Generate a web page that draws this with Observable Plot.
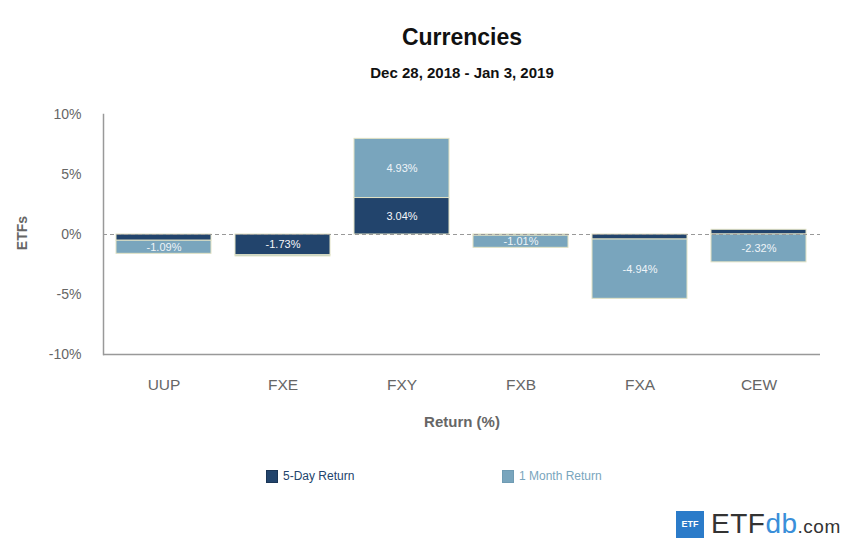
<!DOCTYPE html>
<html>
<head>
<meta charset="utf-8">
<script src="https://cdn.jsdelivr.net/npm/d3@7"></script>
<script src="https://cdn.jsdelivr.net/npm/@observablehq/plot@0.6"></script>
<style>
  body { margin: 0; background: #fff; font-family: "Liberation Sans", Arial, sans-serif; }
  #wrap { position: relative; width: 850px; height: 544px; overflow: hidden; }
  .abs { position: absolute; white-space: nowrap; }
  #chart { position: absolute; left: 0; top: 0; }
</style>
</head>
<body>
<div id="wrap">
  <div id="chart"></div>
  <div class="abs" style="left:0;width:924px;top:24px;text-align:center;font-size:23px;font-weight:bold;color:#111;">Currencies</div>
  <div class="abs" style="left:0;width:924px;top:64px;text-align:center;font-size:15px;font-weight:bold;color:#111;">Dec 28, 2018 - Jan 3, 2019</div>
  <div class="abs" style="left:0;width:924px;top:413px;text-align:center;font-size:15px;font-weight:bold;color:#666;">Return (%)</div>
  <div class="abs" style="left:2px;top:225px;width:40px;text-align:center;font-size:14px;font-weight:bold;color:#666;transform:rotate(-90deg);">ETFs</div>
  <div id="legend"></div>
  <div class="abs" style="left:676px;top:511px;width:28px;height:27px;background:#2b7bc9;color:#fff;font-size:9px;font-weight:bold;text-align:center;line-height:27px;">ETF</div>
  <div class="abs" style="left:711px;top:508px;font-size:28px;color:#333;letter-spacing:0.5px;">ETF<span style="color:#3a8fd9;">db</span><span style="font-size:19px;">.com</span></div>
</div>
<script>
const etfs = ["UUP", "FXE", "FXY", "FXB", "FXA", "CEW"];
const seriesNames = ["5-Day Return", "1 Month Return"];
const fiveDay = [-0.52, -1.73, 3.04, -0.10, -0.42, 0.39];
const oneMonth = [-1.09, -0.10, 4.93, -1.01, -4.94, -2.32];
const yTicks = [-10, -5, 0, 5, 10];
const colors = ["#22446c", "#79a5bd"];
const labelColors = ["#f4f6f9", "#eef4f8"];

const data = [];
etfs.forEach((e, i) => {
  data.push({etf: e, series: seriesNames[0], value: fiveDay[i]});
  data.push({etf: e, series: seriesNames[1], value: oneMonth[i]});
});

const plot = Plot.plot({
  width: 850,
  height: 440,
  marginTop: 114,
  marginBottom: 86,
  marginLeft: 103,
  marginRight: 30,
  style: {fontFamily: "'Liberation Sans', Arial, sans-serif", fontSize: "14px", color: "#666", background: "transparent"},
  x: {domain: etfs, paddingInner: 0.2, paddingOuter: 0.1, label: null},
  y: {domain: [-10, 10], label: null},
  color: {domain: seriesNames, range: colors},
  marks: [
    Plot.axisY(yTicks, {tickFormat: d => d + "%", tickSize: 0, tickPadding: 22, fontSize: 14, label: null}),
    Plot.axisX({tickSize: 0, tickPadding: 24, fontSize: 15.5, label: null}),
    Plot.barY(data, Plot.stackY({x: "etf", y: "value", fill: "series", stroke: "#e2e2c4", strokeWidth: 1, order: null})),
    Plot.ruleY([0], {stroke: "#999", strokeDasharray: "4,3", strokeWidth: 1}),
    Plot.text(data, Plot.stackY({
      x: "etf", y: "value", order: null,
      text: d => Math.abs(d.value) >= 1 ? d.value.toFixed(2) + "%" : "",
      fill: d => labelColors[seriesNames.indexOf(d.series)],
      fontSize: 11
    })),
    Plot.ruleY([-10], {stroke: "#999", strokeWidth: 1.5}),
    Plot.frame({anchor: "left", stroke: "#999", strokeWidth: 1.5})
  ]
});
document.getElementById("chart").appendChild(plot);

const legend = document.getElementById("legend");
const legendX = [266, 502];
seriesNames.forEach((s, i) => {
  const sw = document.createElement("div");
  sw.className = "abs";
  sw.style.cssText = `left:${legendX[i]}px;top:470px;width:12px;height:13px;background:${colors[i]};border:1px solid ${i ? "#6f9bb3" : "#1a3556"};box-sizing:border-box;`;
  legend.appendChild(sw);
  const t = document.createElement("div");
  t.className = "abs";
  t.style.cssText = `left:${legendX[i] + 17}px;top:469px;font-size:12px;color:${colors[i]};`;
  t.textContent = s;
  legend.appendChild(t);
});
</script>
</body>
</html>
